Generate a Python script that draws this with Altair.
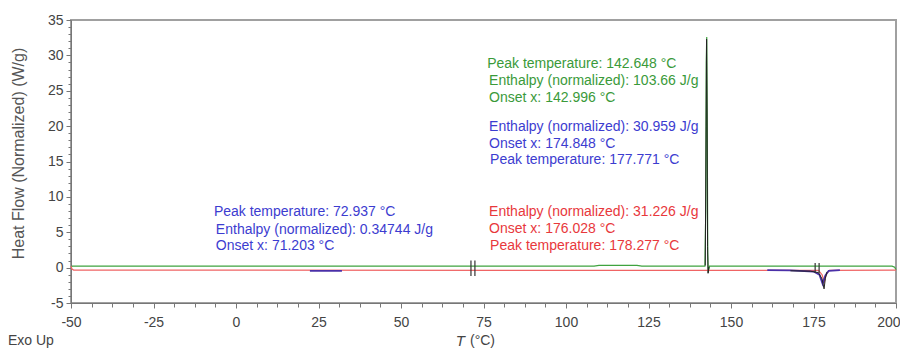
import altair as alt
import pandas as pd

# ---- data ----
green_T = [-50, -49.6, 108.5, 110, 121.5, 123, 142.1, 142.35, 142.5, 142.648, 142.8, 142.95, 143.1, 143.5, 198.8, 199.6, 200]
green_HF = [0.1, 0.2, 0.2, 0.32, 0.32, 0.2, 0.2, 8, 29, 32.6, 20, 2, -0.7, 0.2, 0.2, 0.05, -0.3]

red_T = [-50, -49.7, -49.2, 176.5, 177.6, 178.277, 178.9, 179.8, 200]
red_HF = [0.2, -0.2, -0.35, -0.4, -1.0, -2.0, -0.9, -0.4, -0.35]

purple_seg = [1, 1, 2, 2, 2, 2, 2, 2, 2, 2]
purple_T = [22.4, 32.1, 161, 168, 175, 176.8, 177.771, 178.6, 179.6, 183]
purple_HF = [-0.45, -0.45, -0.35, -0.4, -0.55, -1.0, -2.3, -1.1, -0.45, -0.35]

black_seg = [1, 1, 1, 1, 1, 1, 1, 2, 2, 2, 2, 2, 2, 2]
black_T = [142.2, 142.45, 142.6, 142.75, 142.9, 143.05, 143.3, 168, 174, 176.5, 177.6, 178.2, 178.6, 179.1]
black_HF = [0.3, 20, 32.3, 22, 3, -0.8, 0.1, -0.45, -0.5, -0.7, -1.6, -3.0, -1.5, -0.6]

marker_T = [71.2, 72.4, 175.5, 176.7]
marker_top = [1.0, 1.0, 0.65, 0.65]
marker_bot = [-1.2, -1.2, -0.75, -0.75]

ann_text = [
    "Peak temperature: 142.648 °C", "Enthalpy (normalized): 103.66 J/g", "Onset x: 142.996 °C",
    "Enthalpy (normalized): 30.959 J/g", "Onset x: 174.848 °C", "Peak temperature: 177.771 °C",
    "Enthalpy (normalized): 31.226 J/g", "Onset x: 176.028 °C", "Peak temperature: 178.277 °C",
    "Peak temperature: 72.937 °C", "Enthalpy (normalized): 0.34744 J/g", "Onset x: 71.203 °C",
]
ann_T = [76.1, 76.7, 76.7, 76.7, 76.7, 77.0, 76.7, 76.7, 77.0, -6.7, -6.1, -6.1]
ann_HF = [28.8, 26.4, 24.0, 19.9, 17.5, 15.2, 7.9, 5.5, 3.1, 7.9, 5.3, 3.1]
ann_group = ["g", "g", "g", "b", "b", "b", "r", "r", "r", "b", "b", "b"]

label_text = ["Exo Up", "(°C)"]
label_T = [-69.1, 70.9]
italic_text = ["T"]
italic_T = [66.6]
label_HF = -10.4

x_major = [-50, -25, 0, 25, 50, 75, 100, 125, 150, 175, 200]
x_minor = [-50 + 6.25 * k for k in range(41) if k % 4 != 0]
y_major = [-5, 0, 5, 10, 15, 20, 25, 30, 35]
y_minor = [v for v in range(-5, 36) if v % 5 != 0]

FONT = "Liberation Sans, Arial, sans-serif"

xs = alt.Scale(domain=[-50, 200], nice=False, zero=False)
ys = alt.Scale(domain=[-5, 35], nice=False, zero=False)

green_df = pd.DataFrame({"T": green_T, "HF": green_HF})
red_df = pd.DataFrame({"T": red_T, "HF": red_HF})
purple_df = pd.DataFrame({"T": purple_T, "HF": purple_HF, "seg": purple_seg})
black_df = pd.DataFrame({"T": black_T, "HF": black_HF, "seg": black_seg})
marker_df = pd.DataFrame({"T": marker_T, "top": marker_top, "bot": marker_bot})
ann_df = pd.DataFrame({"text": ann_text, "T": ann_T, "HF": ann_HF, "grp": ann_group})
lab_df = pd.DataFrame({"text": label_text, "T": label_T, "HF": [label_HF] * len(label_text)})
ital_df = pd.DataFrame({"text": italic_text, "T": italic_T, "HF": [label_HF] * len(italic_text)})

main_x = alt.Axis(values=x_major, title=None, grid=False, tickSize=5, labelPadding=7,
                  labelFont=FONT, labelFontSize=14, labelColor="#444", domainColor="#777",
                  tickColor="#777", orient="bottom", labelFlush=False,
                  labelExpr="datum.value + ''",
                  labelAlign={"condition": {"test": "datum.value == 200", "value": "right"},
                              "value": "center"},
                  labelOffset={"condition": {"test": "datum.value == 200", "value": 4},
                               "value": 0})
main_y = alt.Axis(values=y_major, title="Heat Flow (Normalized)  (W/g)", grid=False, tickSize=5,
                  labelPadding=3, labelFont=FONT, labelFontSize=14, labelColor="#444",
                  domainColor="#777", tickColor="#777", orient="left",
                  labelExpr="datum.value + ''",
                  titleFont=FONT, titleFontSize=16, titleFontWeight="normal",
                  titleColor="#555", titleX=-53, titleY=133, titleAngle=270,
                  titleBaseline="middle", titleAlign="center")
minor_x = alt.Axis(values=x_minor, labels=False, domain=False, grid=False, tickSize=4,
                   tickColor="#777", title=None, orient="bottom")
minor_y = alt.Axis(values=y_minor, labels=False, domain=False, grid=False, tickSize=3,
                   tickColor="#777", title=None, orient="left")

green = alt.Chart(green_df).mark_line(color="#3fa33f", strokeWidth=1.2).encode(
    x=alt.X("T:Q", scale=xs, axis=main_x), y=alt.Y("HF:Q", scale=ys, axis=main_y))
red = alt.Chart(red_df).mark_line(color="#f06464", strokeWidth=1.2).encode(
    x=alt.X("T:Q", scale=xs, axis=minor_x), y=alt.Y("HF:Q", scale=ys, axis=minor_y))
purple = alt.Chart(purple_df).mark_line(color="#4a30a8", strokeWidth=1.8).encode(
    x=alt.X("T:Q", scale=xs, axis=None), y=alt.Y("HF:Q", scale=ys, axis=None), detail="seg:N")
black = alt.Chart(black_df).mark_line(color="#222222", strokeWidth=1.0).encode(
    x=alt.X("T:Q", scale=xs, axis=None), y=alt.Y("HF:Q", scale=ys, axis=None), detail="seg:N")
markers = alt.Chart(marker_df).mark_rule(color="#333333", strokeWidth=1.2).encode(
    x=alt.X("T:Q", scale=xs, axis=None), y=alt.Y("top:Q", scale=ys, axis=None), y2="bot:Q")
ann = alt.Chart(ann_df).mark_text(align="left", baseline="middle", font=FONT, fontSize=14).encode(
    x=alt.X("T:Q", scale=xs, axis=None), y=alt.Y("HF:Q", scale=ys, axis=None), text="text:N",
    color=alt.Color("grp:N", scale=alt.Scale(domain=["g", "b", "r"],
                                             range=["#3a9a3a", "#3c3cd0", "#e8383c"]), legend=None))
labels = alt.Chart(lab_df).mark_text(align="left", baseline="middle", font=FONT, fontSize=14,
                                     color="#444").encode(
    x=alt.X("T:Q", scale=xs, axis=None), y=alt.Y("HF:Q", scale=ys, axis=None), text="text:N")
italic = alt.Chart(ital_df).mark_text(align="left", baseline="middle", font=FONT, fontSize=15,
                                      fontStyle="italic", color="#444").encode(
    x=alt.X("T:Q", scale=xs, axis=None), y=alt.Y("HF:Q", scale=ys, axis=None), text="text:N")

chart = alt.layer(green, red, purple, black, markers, ann, labels, italic).resolve_axis(
    x="independent", y="independent"
).properties(
    width=825, height=283,
    padding={"left": 63, "top": 12, "right": 4, "bottom": 47},
    autosize=alt.AutoSizeParams(type="none"),
).configure_view(stroke="#a0a0a0", strokeWidth=2)

chart.save("out.html", embed_options={"renderer": "svg", "actions": False})
